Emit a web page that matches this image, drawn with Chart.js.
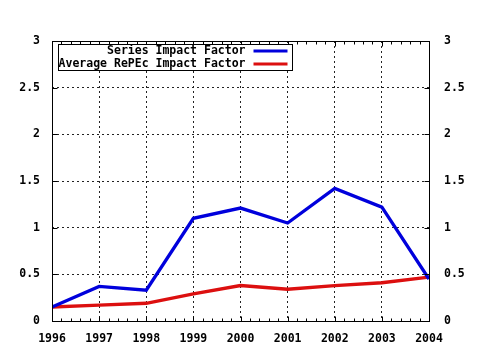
<!DOCTYPE html>
<html>
<head>
<meta charset="utf-8">
<script src="https://cdn.jsdelivr.net/npm/chart.js@4"></script>
<style>
html,body{margin:0;padding:0;background:#fff;}
#wrap{width:480px;height:350px;position:relative;}
</style>
</head>
<body>
<div id="wrap"><canvas id="c" width="480" height="350"></canvas></div>
<script>
const years = [1996, 1997, 1998, 1999, 2000, 2001, 2002, 2003, 2004];
const seriesImpact = [0.15, 0.37, 0.33, 1.10, 1.21, 1.05, 1.42, 1.22, 0.45];
const repecImpact = [0.15, 0.17, 0.19, 0.29, 0.38, 0.34, 0.38, 0.41, 0.47];
const seriesNames = ['Series Impact Factor', 'Average RePEc Impact Factor'];
const seriesColors = ['rgb(0,0,220)', 'rgb(220,15,15)'];
const yTicks = [0, 0.5, 1, 1.5, 2, 2.5, 3];

const FONT = {family: '"DejaVu Sans Mono", "Liberation Mono", monospace', size: 11.5, weight: 'bold'};

function pts(vals) { return years.map((y, i) => ({x: y, y: vals[i]})); }

const framePlugin = {
  id: 'frame',
  afterDatasetsDraw(chart) {
    const ctx = chart.ctx;
    const a = chart.chartArea;
    const xs = chart.scales.x, ys = chart.scales.y;
    const L = Math.round(a.left) + 0.5, R = Math.round(a.right) + 0.5;
    const T = Math.round(a.top) + 0.5, B = Math.round(a.bottom) + 0.5;
    ctx.save();
    ctx.strokeStyle = '#000';
    ctx.lineWidth = 1;
    ctx.setLineDash([]);
    ctx.beginPath();
    years.forEach(v => {
      const p = Math.round(xs.getPixelForValue(v)) + 0.5;
      ctx.moveTo(p, B); ctx.lineTo(p, B - 5);
      ctx.moveTo(p, T); ctx.lineTo(p, T + 5);
    });
    for (let i = 0; i < years.length - 1; i++) {
      for (let k = 1; k < 5; k++) {
        const v = years[i] + k / 5;
        const p = Math.round(xs.getPixelForValue(v)) + 0.5;
        ctx.moveTo(p, B); ctx.lineTo(p, B - 3);
        ctx.moveTo(p, T); ctx.lineTo(p, T + 3);
      }
    }
    yTicks.forEach(v => {
      const p = Math.round(ys.getPixelForValue(v)) + 0.5;
      ctx.moveTo(L, p); ctx.lineTo(L + 5, p);
      ctx.moveTo(R, p); ctx.lineTo(R - 5, p);
    });
    ctx.stroke();
    ctx.strokeRect(L, T, R - L, B - T);

    const kx = L + 6, ky = T + 3, kw = 234, kh = 26;
    ctx.fillStyle = '#fff';
    ctx.fillRect(kx, ky, kw, kh);
    ctx.strokeRect(kx, ky, kw, kh);
    ctx.font = `${FONT.weight} ${FONT.size}px ${FONT.family}`;
    ctx.textAlign = 'right';
    ctx.textBaseline = 'middle';
    chart.data.datasets.forEach((ds, i) => {
      const cy = ky + 6.5 + i * 13;
      ctx.fillStyle = '#000';
      ctx.fillText(ds.label, kx + 187, cy + 0.5);
      ctx.strokeStyle = ds.borderColor;
      ctx.lineWidth = 3;
      ctx.beginPath();
      ctx.moveTo(kx + 195, cy);
      ctx.lineTo(kx + 229, cy);
      ctx.stroke();
    });
    ctx.restore();
  }
};

new Chart(document.getElementById('c'), {
  type: 'line',
  data: {
    datasets: [
      {label: seriesNames[0], data: pts(seriesImpact), borderColor: seriesColors[0], backgroundColor: seriesColors[0], borderWidth: 3.3, pointRadius: 0, tension: 0, fill: false},
      {label: seriesNames[1], data: pts(repecImpact), borderColor: seriesColors[1], backgroundColor: seriesColors[1], borderWidth: 3.3, pointRadius: 0, tension: 0, fill: false}
    ]
  },
  options: {
    responsive: false,
    animation: false,
    devicePixelRatio: 1,
    layout: {padding: {top: 41, left: 0, right: 0, bottom: 0}},
    plugins: {legend: {display: false}, tooltip: {enabled: false}},
    scales: {
      x: {
        type: 'linear', position: 'bottom', min: years[0], max: years[years.length - 1],
        afterFit(s) { s.height = 29; },
        afterBuildTicks(s) { s.ticks = years.map(v => ({value: v})); },
        ticks: {color: '#000', font: FONT, padding: 11, maxRotation: 0, autoSkip: false, callback: v => String(v)},
        grid: {color: '#222', lineWidth: 1, drawTicks: false},
        border: {display: false, dash: [2, 3]}
      },
      y: {
        type: 'linear', position: 'left', min: 0, max: 3,
        afterFit(s) { s.width = 52; },
        afterBuildTicks(s) { s.ticks = yTicks.map(v => ({value: v})); },
        ticks: {color: '#000', font: FONT, padding: 12, callback: v => String(v)},
        grid: {color: '#222', lineWidth: 1, drawTicks: false},
        border: {display: false, dash: [2, 3]}
      },
      y2: {
        type: 'linear', position: 'right', min: 0, max: 3,
        afterFit(s) { s.width = 51; },
        afterBuildTicks(s) { s.ticks = yTicks.map(v => ({value: v})); },
        ticks: {color: '#000', font: FONT, padding: 15, callback: v => String(v)},
        grid: {display: false, drawTicks: false},
        border: {display: false}
      }
    }
  },
  plugins: [framePlugin]
});
</script>
</body>
</html>
